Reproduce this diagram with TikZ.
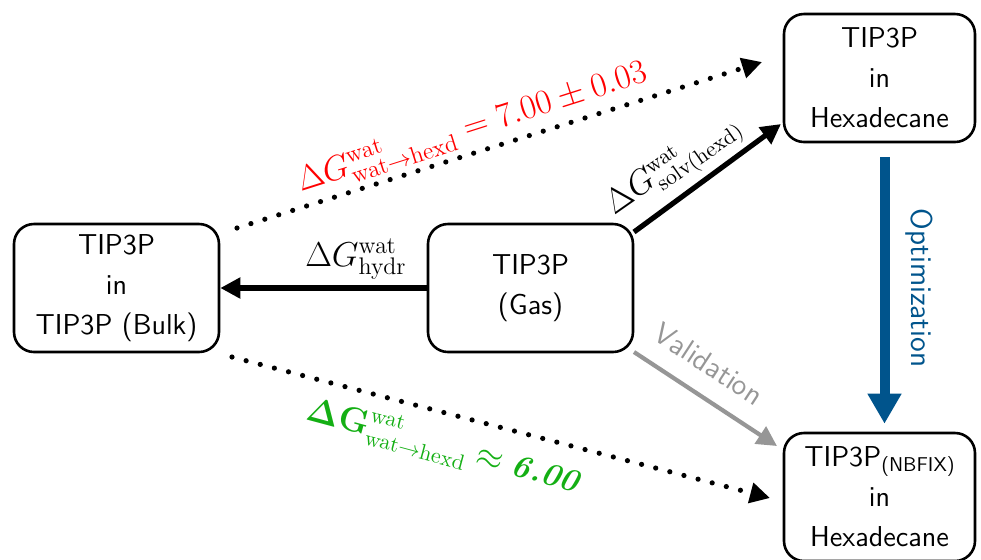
\documentclass[tikz,border=0pt]{standalone}
\usetikzlibrary{arrows.meta,calc}
\definecolor{optblue}{RGB}{0,84,140}
\definecolor{valgray}{RGB}{150,150,150}
\definecolor{labgreen}{RGB}{20,175,20}
\begin{document}
\begin{tikzpicture}[x=0.5pt,y=-0.5pt,
  box/.style={draw, line width=1.3pt, rounded corners=10pt, align=center,
    font=\fontsize{14.4}{20}\selectfont\sffamily, inner sep=0pt},
  solidarrow/.style={line width=2.6pt, -{Triangle[length=10pt,width=10pt]}},
  dotarrow/.style={line width=2.6pt, line cap=round, dash pattern=on 0pt off 7.3pt,
    -{Triangle[length=10pt,width=10pt,line cap=butt]}},
  mathlab/.style={inner sep=1pt},
]
\useasboundingbox (0,0) rectangle (981,559);
% boxes
\node[box, minimum width=102.5pt, minimum height=64pt] (bulk) at (116.5,288) {TIP3P\\in\\TIP3P (Bulk)};
\node[box, minimum width=102.5pt, minimum height=64pt] (gas) at (530.5,288) {TIP3P\\(Gas)};
\node[box, minimum width=95.5pt, minimum height=64pt] (hexd) at (879.5,78) {TIP3P\\in\\Hexadecane};
\node[box, minimum width=95.5pt, minimum height=64pt] (nbfix) at (879.5,497) {TIP3P\raisebox{-2.5pt}{\fontsize{10}{12}\selectfont(NBFIX)}\\in\\Hexadecane};
% free ends
\coordinate (redstart) at (237,228);
\coordinate (redend) at (762,62);
\coordinate (greenstart) at (232,357);
\coordinate (greenend) at (770,498);
\coordinate (solvstart) at (634,232);
\coordinate (solvend) at (781,124);
\coordinate (valstart) at (634,352);
\coordinate (valend) at (777,446);
% connectors
\draw[solidarrow] (gas.west) -- (bulk.east) coordinate[midway] (hydrmid);
\draw[solidarrow] (solvstart) -- (solvend);
\draw[solidarrow, valgray, line width=2.1pt] (valstart) -- (valend);
\draw[line width=5pt, optblue, -{Triangle[length=15pt,width=16pt]}] ($(hexd.south)+(5,14)$) -- ($(nbfix.north)+(5,-8)$) coordinate[midway] (optmid);
\draw[dotarrow] (redstart) -- (redend);
\draw[dotarrow] (greenstart) -- (greenend);
% labels
\node[mathlab, font=\fontsize{16.5}{19}\selectfont] (hydrlab) at (356,259) {$\Delta G^{\mathrm{wat}}_{\mathrm{hydr}}$};
\node[mathlab, font=\fontsize{16}{19}\selectfont, rotate=35] (solvlab) at (674,166) {$\Delta G^{\mathrm{wat}}_{\mathrm{solv(hexd)}}$};
\node[mathlab, font=\fontsize{16.5}{20}\selectfont, text=red, rotate=17.6] (redlab) at (472,127) {$\Delta G^{\mathrm{wat}}_{\mathrm{wat}\rightarrow\mathrm{hexd}} = 7.00 \pm 0.03$};
\node[mathlab, font=\fontsize{16}{20}\selectfont, text=labgreen, rotate=-15] (greenlab) at (443,446) {$\mathbf{\Delta G}^{\mathrm{wat}}_{\mathrm{wat}\rightarrow\mathrm{hexd}} \approx \mbox{\bfseries\itshape 6.00}$};
\node[font=\fontsize{15}{17}\selectfont\sffamily, text=valgray, rotate=-33.2] (vallab) at (709,364) {Validation};
\node[font=\fontsize{15}{17}\selectfont\sffamily, text=optblue, rotate=-90] (optlab) at (919,288) {Optimization};
\end{tikzpicture}
\end{document}
